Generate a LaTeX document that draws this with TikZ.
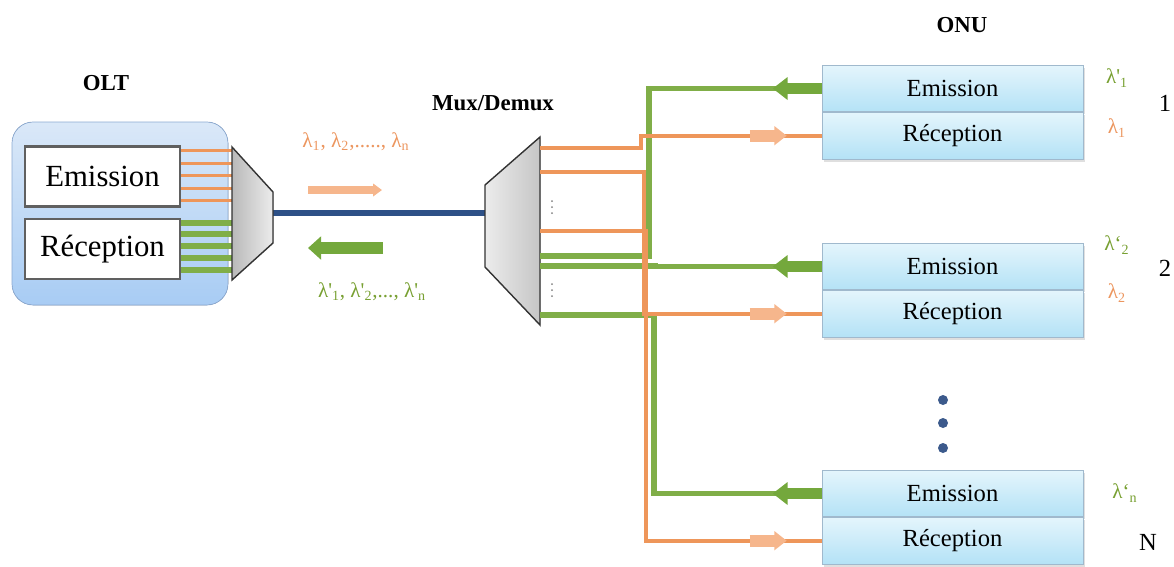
\documentclass[tikz,border=0pt]{standalone}
\usepackage{fontspec}
\setmainfont{Liberation Serif}
\usepackage{tikz}
\usetikzlibrary{arrows.meta,shadows}

\definecolor{fibreorange}{RGB}{238,150,90}
\definecolor{fibregreen}{RGB}{128,174,72}
\definecolor{peach}{RGB}{246,182,140}
\definecolor{leaf}{RGB}{116,168,60}
\definecolor{trunkblue}{RGB}{45,80,135}
\definecolor{onutop}{RGB}{228,245,252}
\definecolor{onubot}{RGB}{180,226,246}
\definecolor{onuline}{RGB}{160,185,205}
\definecolor{olttop}{RGB}{218,232,248}
\definecolor{oltbot}{RGB}{168,204,244}
\definecolor{oltline}{RGB}{140,170,210}
\definecolor{dotblue}{RGB}{60,90,140}
\definecolor{lamor}{RGB}{236,150,95}
\definecolor{lamgr}{RGB}{120,160,50}

\tikzset{
  onubox/.style={draw=onuline, top color=onutop, bottom color=onubot, minimum width=5.22cm, minimum height=0.93cm, inner sep=0pt, font=\fontsize{14}{16}\selectfont, drop shadow={opacity=0.25, shadow xshift=1pt, shadow yshift=-1.5pt}},
  oltbox/.style={draw=gray!75!black, line width=1.6pt, fill=white, minimum width=3.1cm, minimum height=1.2cm, inner sep=0pt, font=\fontsize{17.5}{20}\selectfont},
  orline/.style={draw=fibreorange, line width=2.3pt},
  grline/.style={draw=fibregreen, line width=3pt},
  leafarrow/.style={draw=leaf, line width=6pt, -{Triangle[length=8.5pt,width=12.5pt]}},
  peacharrow/.style={draw=peach, line width=7pt, -{Triangle[length=7pt,width=10.5pt]}},
  title/.style={font=\bfseries\fontsize{13}{15}\selectfont},
  lamlabel/.style={font=\fontsize{12}{14}\selectfont}
}

\begin{document}
\begin{tikzpicture}[x=0.02cm, y=-0.02cm]

   \useasboundingbox (0,0) rectangle (1174,566);

   \node[title] (olt) at (106,83) {OLT};
   \node[title] (mux) at (493,103) {Mux/Demux};
   \node[title] (onu) at (962,25) {ONU};

   \filldraw[top color=olttop, bottom color=oltbot, draw=oltline, rounded corners=12pt] (12,122) rectangle (228,305);
   \node[oltbox] (olte) at (102.5,176.5) {Emission};
   \node[oltbox] (oltr) at (102.5,249) {Réception};

   \coordinate (mxtl) at (232,147);
   \coordinate (mxbl) at (232,280);
   \coordinate (mxtr) at (273,192);
   \coordinate (mxbr) at (273,243);
   \coordinate (mxr) at (273,213);

   \foreach \k in {150,163,175,188,200}
      \draw[orline, line width=1.7pt] (olte.east |- 0,\k) -- (mxtl |- 0,\k);
   \foreach \k in {223,234,246,258,270}
      \draw[grline] (oltr.east |- 0,\k) -- (mxtl |- 0,\k);

   \coordinate (dmtl) at (485,185);
   \coordinate (dmbl) at (485,267);
   \coordinate (dmtr) at (540,137);
   \coordinate (dmbr) at (540,325);
   \coordinate (dml) at (485,213);

   \draw[trunkblue, line width=3pt] (mxr) -- (dml);

   \filldraw[left color=gray!55, right color=gray!15, draw=black!80, line width=0.8pt] (mxtl) -- (mxtr) -- (mxbr) -- (mxbl) -- cycle;
   \filldraw[left color=gray!15, right color=gray!45, draw=black!80, line width=0.8pt] (dmtl) -- (dmtr) -- (dmbr) -- (dmbl) -- cycle;

   \node[lamlabel, text=lamor] (lamdown) at (356,142) {λ\textsubscript{1}, λ\textsubscript{2},....., λ\textsubscript{n}};
   \node[lamlabel, text=lamgr] (lamup) at (372,292) {λ\textquotesingle\textsubscript{1}, λ\textquotesingle\textsubscript{2},..., λ\textquotesingle\textsubscript{n}};
   \coordinate (dwa) at (308,190);
   \coordinate (dwb) at (382,190);
   \coordinate (upa) at (383,248);
   \coordinate (upb) at (308,248);
   \draw[draw=peach, line width=4.5pt, -{Triangle[length=5pt,width=7pt]}] (dwa) -- (dwb);
   \draw[draw=leaf, line width=6.8pt, -{Triangle[length=7.5pt,width=13pt]}] (upa) -- (upb);

   \foreach \y in {201,207,213}
      \fill[gray] (552,\y) circle (0.02cm);
   \foreach \y in {284,290,296}
      \fill[gray] (552,\y) circle (0.02cm);

   \node[onubox] (em1) at (952.5,88.5) {Emission};
   \node[onubox, anchor=north] (rec1) at (em1.south) {Réception};
   \node[onubox] (em2) at (952.5,266.5) {Emission};
   \node[onubox, anchor=north] (rec2) at (em2.south) {Réception};
   \node[onubox] (emn) at (952.5,493.5) {Emission};
   \node[onubox, anchor=north] (recn) at (emn.south) {Réception};

   \coordinate (do1) at (540,148);
   \coordinate (do2) at (540,172);
   \coordinate (do3) at (540,231);
   \coordinate (dg1) at (540,256);
   \coordinate (dg2) at (540,266);
   \coordinate (dg3) at (540,315);

   \draw[grline] (dg1) -- ++(109,0) |- (em1.west);
   \draw[grline] (dg2) -- ++(115,0) |- (em2.west);
   \draw[grline] (dg3) -- ++(114,0) |- (emn.west);

   \draw[orline] (do1) -- ++(101,0) |- (rec1.west);
   \draw[orline] (do2) -- ++(104,0) |- (rec2.west);
   \draw[orline] (do3) -- ++(106,0) |- (recn.west);

   \draw[leafarrow] (em1.west) -- ++(-49,0);
   \draw[leafarrow] (em2.west) -- ++(-49,0);
   \draw[leafarrow] (emn.west) -- ++(-49,0);

   \draw[peacharrow] ([xshift=-1.44cm]rec1.west) -- ++(37,0);
   \draw[peacharrow] ([xshift=-1.44cm]rec2.west) -- ++(37,0);
   \draw[peacharrow] ([xshift=-1.44cm]recn.west) -- ++(37,0);

   \foreach \y in {400,423,448}
      \fill[dotblue] (943,\y) circle (0.1cm);

   \node[lamlabel, text=lamgr] (la1) at (1117,78) {λ\textquotesingle\textsubscript{1}};
   \node[lamlabel, text=lamor] (lb1) at (1117,128) {λ\textsubscript{1}};
   \node[font=\fontsize{14}{16}\selectfont] (n1) at (1165,103) {1};

   \node[lamlabel, text=lamgr] (la2) at (1117,245) {λ‘\textsubscript{2}};
   \node[lamlabel, text=lamor] (lb2) at (1117,293) {λ\textsubscript{2}};
   \node[font=\fontsize{14}{16}\selectfont] (n2) at (1165,268) {2};

   \node[lamlabel, text=lamgr] (lan) at (1125,493) {λ‘\textsubscript{n}};
   \node[font=\fontsize{14}{16}\selectfont] (nn) at (1148,542) {N};

\end{tikzpicture}
\end{document}
